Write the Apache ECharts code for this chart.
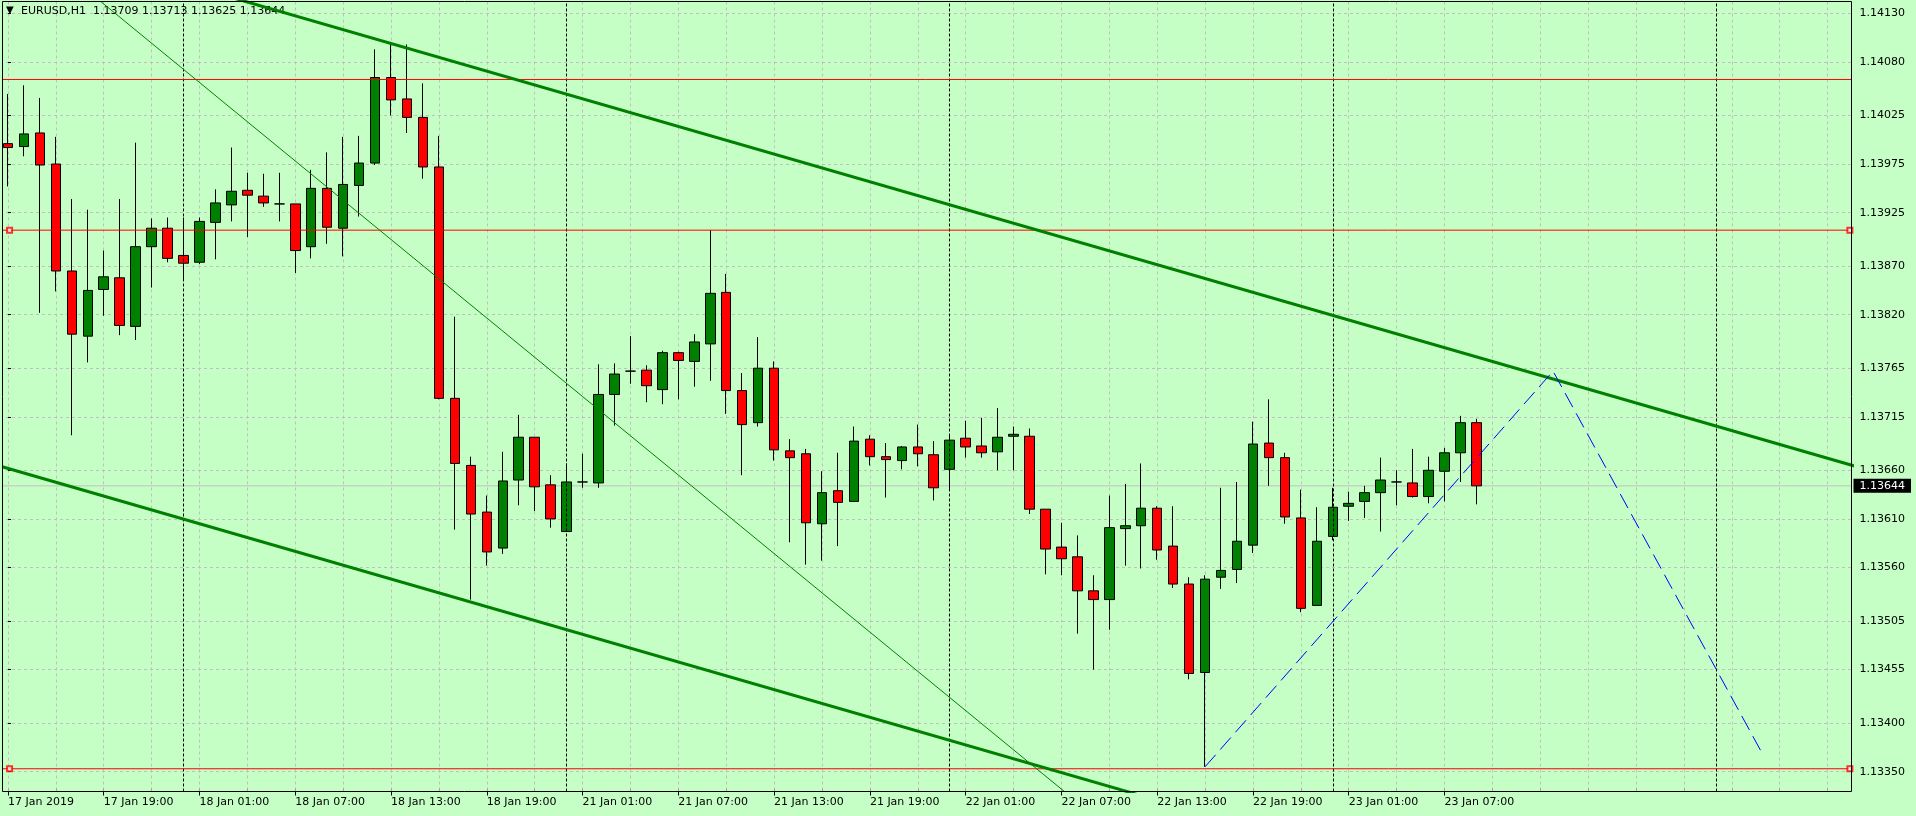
<!DOCTYPE html>
<html>
<head>
<meta charset="utf-8">
<script src="https://cdn.jsdelivr.net/npm/echarts@6/dist/echarts.min.js"></script>
<style>
html,body{margin:0;padding:0;background:#c5ffc5;}
#chart{width:1916px;height:816px;}
</style>
</head>
<body>
<div id="chart"></div>
<script>
// ---------------- data ----------------
const symbolName = 'EURUSD,H1';
const startUTC = Date.UTC(2019, 0, 17, 13); // first bar 17 Jan 2019 13:00
const slotCount = 116; // bars + empty future slots

const opens = [1.13996,1.13993,1.14007,1.13975,1.13865,1.13798,1.13846,1.13858,1.13808,1.13890,
1.13909,1.13881,1.13874,1.13915,1.13933,1.13948,1.13942,1.13934,1.13934,1.13890,
1.13950,1.13909,1.13953,1.13976,1.14064,1.14042,1.14023,1.13972,1.13734,1.13665,
1.13617,1.13580,1.13650,1.13694,1.13645,1.13597,1.13648,1.13647,1.13738,1.13762,
1.13763,1.13743,1.13781,1.13772,1.13790,1.13843,1.13742,1.13709,1.13765,1.13680,
1.13677,1.13605,1.13639,1.13628,1.13692,1.13674,1.13670,1.13684,1.13676,1.13661,
1.13693,1.13685,1.13679,1.13695,1.13695,1.13620,1.13581,1.13571,1.13536,1.13527,
1.13600,1.13603,1.13621,1.13582,1.13543,1.13452,1.13550,1.13558,1.13583,1.13688,
1.13673,1.13611,1.13521,1.13592,1.13623,1.13628,1.13637,1.13648,1.13647,1.13633,
1.13659,1.13678,1.13709];

const highs = [1.14047,1.14056,1.14043,1.14003,1.13939,1.13928,1.13886,1.13939,1.13997,1.13919,
1.13920,1.13920,1.13920,1.13949,1.13992,1.13966,1.13965,1.13966,1.13934,1.13969,
1.13987,1.14003,1.14004,1.14093,1.14099,1.14098,1.14058,1.14004,1.13818,1.13674,
1.13634,1.13679,1.13717,1.13694,1.13655,1.13667,1.13677,1.13769,1.13770,1.13798,
1.13768,1.13783,1.13782,1.13800,1.13907,1.13862,1.13760,1.13797,1.13772,1.13692,
1.13682,1.13659,1.13678,1.13705,1.13696,1.13688,1.13685,1.13707,1.13690,1.13697,
1.13711,1.13714,1.13724,1.13705,1.13703,1.13620,1.13606,1.13593,1.13552,1.13634,
1.13646,1.13667,1.13623,1.13623,1.13550,1.13552,1.13642,1.13648,1.13710,1.13733,
1.13678,1.13640,1.13622,1.13642,1.13638,1.13644,1.13673,1.13660,1.13682,1.13674,
1.13683,1.13716,1.13713];

const lows = [1.13952,1.13983,1.13822,1.13844,1.13696,1.13771,1.13819,1.13799,1.13794,1.13848,
1.13874,1.13855,1.13872,1.13877,1.13916,1.13900,1.13931,1.13916,1.13863,1.13878,
1.13893,1.13880,1.13921,1.13974,1.14025,1.14007,1.13960,1.13733,1.13599,1.13527,
1.13562,1.13574,1.13624,1.13618,1.13601,1.13597,1.13642,1.13642,1.13706,1.13749,
1.13730,1.13728,1.13733,1.13746,1.13752,1.13718,1.13655,1.13705,1.13670,1.13586,
1.13563,1.13567,1.13582,1.13628,1.13665,1.13632,1.13661,1.13664,1.13629,1.13640,
1.13673,1.13673,1.13660,1.13660,1.13615,1.13553,1.13552,1.13492,1.13455,1.13496,
1.13562,1.13559,1.13568,1.13539,1.13445,1.13355,1.13538,1.13544,1.13575,1.13644,
1.13605,1.13514,1.13521,1.13588,1.13608,1.13611,1.13597,1.13624,1.13632,1.13626,
1.13628,1.13648,1.13625];

const closes = [1.13992,1.14006,1.13974,1.13865,1.13800,1.13845,1.13859,1.13809,1.13890,1.13909,
1.13878,1.13873,1.13916,1.13935,1.13947,1.13943,1.13935,1.13934,1.13886,1.13950,
1.13910,1.13954,1.13976,1.14064,1.14041,1.14023,1.13972,1.13734,1.13667,1.13615,
1.13576,1.13649,1.13694,1.13643,1.13610,1.13648,1.13648,1.13738,1.13759,1.13762,
1.13747,1.13781,1.13773,1.13792,1.13842,1.13742,1.13707,1.13765,1.13681,1.13673,
1.13606,1.13637,1.13627,1.13690,1.13674,1.13671,1.13684,1.13677,1.13642,1.13691,
1.13684,1.13678,1.13694,1.13697,1.13620,1.13579,1.13569,1.13536,1.13527,1.13601,
1.13603,1.13621,1.13578,1.13543,1.13451,1.13548,1.13557,1.13587,1.13687,1.13673,
1.13612,1.13518,1.13587,1.13622,1.13626,1.13637,1.13650,1.13648,1.13633,1.13660,
1.13678,1.13709,1.13644];

const xTickLabels = ['17 Jan 2019','17 Jan 19:00','18 Jan 01:00','18 Jan 07:00','18 Jan 13:00',
  '18 Jan 19:00','21 Jan 01:00','21 Jan 07:00','21 Jan 13:00','21 Jan 19:00','22 Jan 01:00',
  '22 Jan 07:00','22 Jan 13:00','22 Jan 19:00','23 Jan 01:00','23 Jan 07:00'];
const xTickStep = 6;
const gridBars = [0,3,6,9,12,15,18,21,24,27,30,33,36,39,42,45,48,51,54,57,60,63,66,69,72,75,78,81,84,87,90,93,96,99,102,105,108,111,114];

const yTickValues = [1.14130,1.14080,1.14025,1.13975,1.13925,1.13870,1.13820,1.13765,
  1.13715,1.13660,1.13610,1.13560,1.13505,1.13455,1.13400,1.13350];
const yMin = 1.133296, yMax = 1.141422;

const redLevels = [1.14062];
const redLevelsMarked = [1.13907, 1.13353];
const markerBars = [0.1, 115.4];
const daySeparators = [11, 35, 59, 83, 107];

const upperChannel = [[10, 1.1416536], [116, 1.1366292]];
const lowerChannel = [[-1, 1.136666], [75, 1.133064]];
const thinTrend = [[5, 1.141531], [70, 1.1327824]];
const blueZigzag = [[75, 1.13355], [96.8, 1.13762], [110, 1.13366]];

// ---------------- build ----------------
const fontFamily = 'DejaVu Sans';
const bg = '#c5ffc5';
const months = ['Jan','Feb','Mar','Apr','May','Jun','Jul','Aug','Sep','Oct','Nov','Dec'];
const categories = [];
let t = startUTC;
for (let i = 0; i < slotCount; i++) {
  const d = new Date(t);
  categories.push(d.getUTCDate() + ' ' + months[d.getUTCMonth()] + ' ' + String(d.getUTCHours()).padStart(2, '0') + ':00');
  t += 3600000;
  if (new Date(t).getUTCDay() === 6) t += 48 * 3600000;
}
const nBars = opens.length;
const fmt = v => v.toFixed(5);
const last = nBars - 1;
const candleData = opens.map((o, i) => [o, closes[i], lows[i], highs[i]]);
const showTick = i => i % xTickStep === 0 && i < nBars;
const xLo = -0.5, xHi = slotCount - 0.5;

function hLine(v, color, z, extra) {
  return Object.assign({
    type: 'line', xAxisIndex: 1, yAxisIndex: 0, data: [[xLo, v], [xHi, v]],
    showSymbol: false, silent: true, z: z, clip: true,
    lineStyle: { color: color, width: 1, type: 'solid' }
  }, extra || {});
}

const series = [
  { // day separators (behind candles)
    type: 'line', xAxisIndex: 1, yAxisIndex: 0, data: [], silent: true, z: 1,
    markLine: {
      silent: true, symbol: 'none', animation: false,
      label: { show: false },
      lineStyle: { color: '#000', type: [3, 2], width: 1 },
      data: daySeparators.map(v => ({ xAxis: v }))
    }
  },
  hLine(closes[last], '#c0c0c0', 1, {
    endLabel: { show: true, formatter: fmt(closes[last]), backgroundColor: '#000', color: '#fff',
      fontSize: 11, fontFamily, padding: [2, 6, 1, 6], distance: 2 }
  }),
  {
    type: 'candlestick', xAxisIndex: 0, yAxisIndex: 0, data: candleData, barWidth: 10, z: 3,
    itemStyle: { color: '#008000', color0: '#ff0000', borderColor: '#000', borderColor0: '#000',
      borderColorDoji: '#000', borderWidth: 1 }
  }
];
redLevels.concat(redLevelsMarked).forEach(v => series.push(hLine(v, '#ff0000', 5)));
series.push({
  type: 'scatter', xAxisIndex: 1, yAxisIndex: 0, silent: true, z: 7, clip: false,
  symbol: 'emptyRect', symbolSize: 5,
  itemStyle: { color: '#ff0000', borderColor: '#ff0000', borderWidth: 1 },
  data: redLevelsMarked.flatMap(v => markerBars.map(b => [b, v]))
});
series.push(
  { type: 'line', xAxisIndex: 1, yAxisIndex: 0, data: upperChannel, showSymbol: false, silent: true, z: 6,
    clip: true, lineStyle: { color: '#008000', width: 3 } },
  { type: 'line', xAxisIndex: 1, yAxisIndex: 0, data: lowerChannel, showSymbol: false, silent: true, z: 6,
    clip: true, lineStyle: { color: '#008000', width: 3 } },
  { type: 'line', xAxisIndex: 1, yAxisIndex: 0, data: thinTrend, showSymbol: false, silent: true, z: 6,
    clip: true, lineStyle: { color: '#008000', width: 1 } },
  { type: 'line', xAxisIndex: 1, yAxisIndex: 0, data: blueZigzag, showSymbol: false, silent: true, z: 6,
    clip: true, lineStyle: { color: '#0000ff', width: 1, type: [16, 7] } }
);

const chart = echarts.init(document.getElementById('chart'));
chart.setOption({
  animation: false,
  backgroundColor: bg,
  title: [
    { text: '▼', left: 6, top: 5, padding: 0,
      textStyle: { fontSize: 10, color: '#000', fontWeight: 'normal', fontFamily } },
    { text: symbolName + '  ' + [opens[last], highs[last], lows[last], closes[last]].map(fmt).join(' '),
      left: 21, top: 6, padding: 0,
      textStyle: { fontSize: 11, color: '#000', fontWeight: 'normal', fontFamily } }
  ],
  grid: { left: -4.5, right: 64.5, top: 1.5, bottom: 24.5, containLabel: false },
  xAxis: [
    {
      type: 'category', data: categories, boundaryGap: true, position: 'bottom',
      axisLine: { show: false },
      axisTick: { show: true, alignWithLabel: true, interval: showTick, length: 4, lineStyle: { color: '#000' } },
      axisLabel: { show: true, interval: showTick, formatter: (v, i) => xTickLabels[i / xTickStep] || '',
        align: 'left', color: '#000', fontSize: 11, fontFamily, margin: 5 },
      splitLine: { show: false }
    },
    {
      type: 'value', min: xLo, max: xHi, position: 'bottom',
      axisLine: { show: false },
      axisLabel: { show: false },
      axisTick: { show: true, inside: true, length: 3, customValues: gridBars, lineStyle: { color: '#a0a0a0' } },
      splitLine: { show: true, lineStyle: { color: '#c0c0c0', type: [3, 3], width: 1 } }
    }
  ],
  yAxis: {
    type: 'value', position: 'right', min: yMin, max: yMax, scale: true,
    axisLine: { show: false },
    axisTick: { show: true, length: 3, customValues: yTickValues, lineStyle: { color: '#000' } },
    axisLabel: { show: true, customValues: yTickValues, formatter: v => fmt(v), color: '#000',
      fontSize: 11, fontFamily, margin: 8 },
    splitLine: { show: true, lineStyle: { color: '#c0c0c0', type: [3, 3], width: 1 } }
  },
  series: series,
  graphic: [
    { type: 'rect', silent: true, z: 99, shape: { x: 0, y: 0, width: 2, height: 816 }, style: { fill: bg } },
    { type: 'rect', silent: true, z: 100, shape: { x: 2.5, y: 1.5, width: 1849, height: 790 },
      style: { fill: 'none', stroke: '#000', lineWidth: 1 } }
  ]
});
</script>
</body>
</html>
